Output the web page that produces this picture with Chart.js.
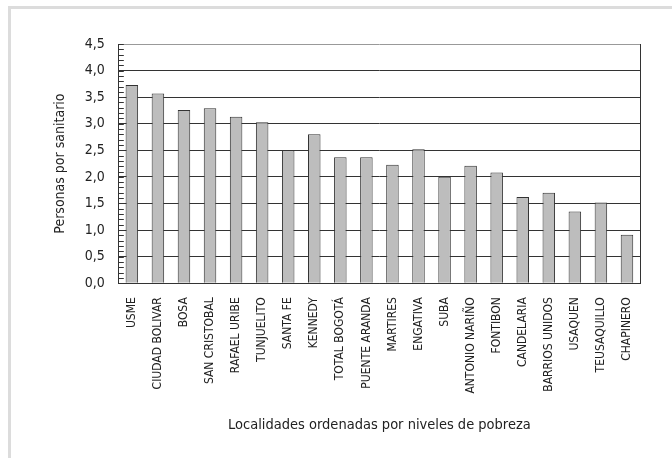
<!DOCTYPE html>
<html>
<head>
<meta charset="utf-8">
<script src="https://cdn.jsdelivr.net/npm/chart.js@4"></script>
<style>
  html, body { margin: 0; padding: 0; background: #fff; }
  .wrap { position: relative; width: 672px; height: 458px; overflow: hidden; }
  .frame { position: absolute; left: 8px; top: 6px; width: 700px; height: 500px;
           border-left: 3px solid #dcdcdc; border-top: 3px solid #dcdcdc; }
  canvas { position: absolute; left: 0; top: 0; }
</style>
</head>
<body>
<div class="wrap">
  <div class="frame"></div>
  <canvas id="c" width="672" height="458"></canvas>
</div>
<script>
const FONT = "'Liberation Sans Narrow', 'Arial Narrow', 'DejaVu Sans Condensed', sans-serif";

const localidades = [
  'USME', 'CIUDAD BOLIVAR', 'BOSA', 'SAN CRISTOBAL', 'RAFAEL URIBE',
  'TUNJUELITO', 'SANTA FE', 'KENNEDY', 'TOTAL BOGOTÁ', 'PUENTE ARANDA',
  'MARTIRES', 'ENGATIVA', 'SUBA', 'ANTONIO NARIÑO', 'FONTIBON',
  'CANDELARIA', 'BARRIOS UNIDOS', 'USAQUEN', 'TEUSAQUILLO', 'CHAPINERO'
];
const personasPorSanitario = [
  3.73, 3.57, 3.26, 3.29, 3.13,
  3.03, 2.50, 2.80, 2.37, 2.37,
  2.23, 2.52, 2.00, 2.21, 2.08,
  1.62, 1.70, 1.35, 1.52, 0.91
];
const yMin = 0, yMax = 4.5, yStep = 0.5, yMinorStep = 0.1;

// little inward ticks on the y axis, every 0.1
const minorTicks = {
  id: 'minorTicks',
  afterDatasetsDraw(chart) {
    const y = chart.scales.y, ctx = chart.ctx;
    const left = chart.chartArea.left;
    ctx.save();
    ctx.strokeStyle = '#333';
    ctx.lineWidth = 1;
    const n = Math.round((yMax - yMin) / yMinorStep);
    for (let i = 0; i <= n; i++) {
      const py = Math.round(y.getPixelForValue(yMin + i * yMinorStep)) + 0.5;
      ctx.beginPath();
      ctx.moveTo(left, py);
      ctx.lineTo(left + 5, py);
      ctx.stroke();
    }
    ctx.restore();
  }
};

new Chart(document.getElementById('c'), {
  type: 'bar',
  data: {
    labels: localidades,
    datasets: [{
      data: personasPorSanitario,
      backgroundColor: '#bdbdbd',
      borderColor: '#333',
      borderWidth: { top: 1, left: 1, right: 1, bottom: 0 },
      borderSkipped: 'bottom',
      barPercentage: 0.48,
      categoryPercentage: 1
    }]
  },
  options: {
    responsive: false,
    animation: false,
    devicePixelRatio: 1,
    layout: { padding: { left: 48, right: 32, top: 44, bottom: 20 } },
    plugins: { legend: { display: false }, tooltip: { enabled: false } },
    scales: {
      x: {
        grid: { display: false, drawTicks: false },
        border: { color: '#333', width: 1 },
        ticks: {
          minRotation: 90, maxRotation: 90, autoSkip: false,
          padding: 14, color: '#222',
          font: { family: FONT, size: 12 }
        },
        title: {
          display: true, text: 'Localidades ordenadas por niveles de pobreza',
          color: '#222', font: { family: FONT, size: 14.5 }, padding: { top: 9 }
        }
      },
      y: {
        min: yMin, max: yMax,
        grid: {
          drawTicks: false,
          color: ctx => ctx.tick && ctx.tick.value === yMax ? '#999' : '#333'
        },
        border: { color: '#333', width: 1 },
        ticks: {
          stepSize: yStep, padding: 14, color: '#222',
          font: { family: FONT, size: 14 },
          callback: v => v.toFixed(1).replace('.', ',')
        },
        title: {
          display: true, text: 'Personas por sanitario',
          color: '#222', font: { family: FONT, size: 14 }, padding: { top: 4, bottom: 2 }
        }
      }
    }
  },
  plugins: [minorTicks, {
    id: 'rightEdge',
    afterDatasetsDraw(chart) {
      const a = chart.chartArea, ctx = chart.ctx;
      ctx.save();
      ctx.strokeStyle = '#333';
      ctx.beginPath();
      ctx.moveTo(Math.round(a.right) + 0.5, a.top);
      ctx.lineTo(Math.round(a.right) + 0.5, a.bottom);
      ctx.stroke();
      ctx.restore();
    }
  }]
});
</script>
</body>
</html>
